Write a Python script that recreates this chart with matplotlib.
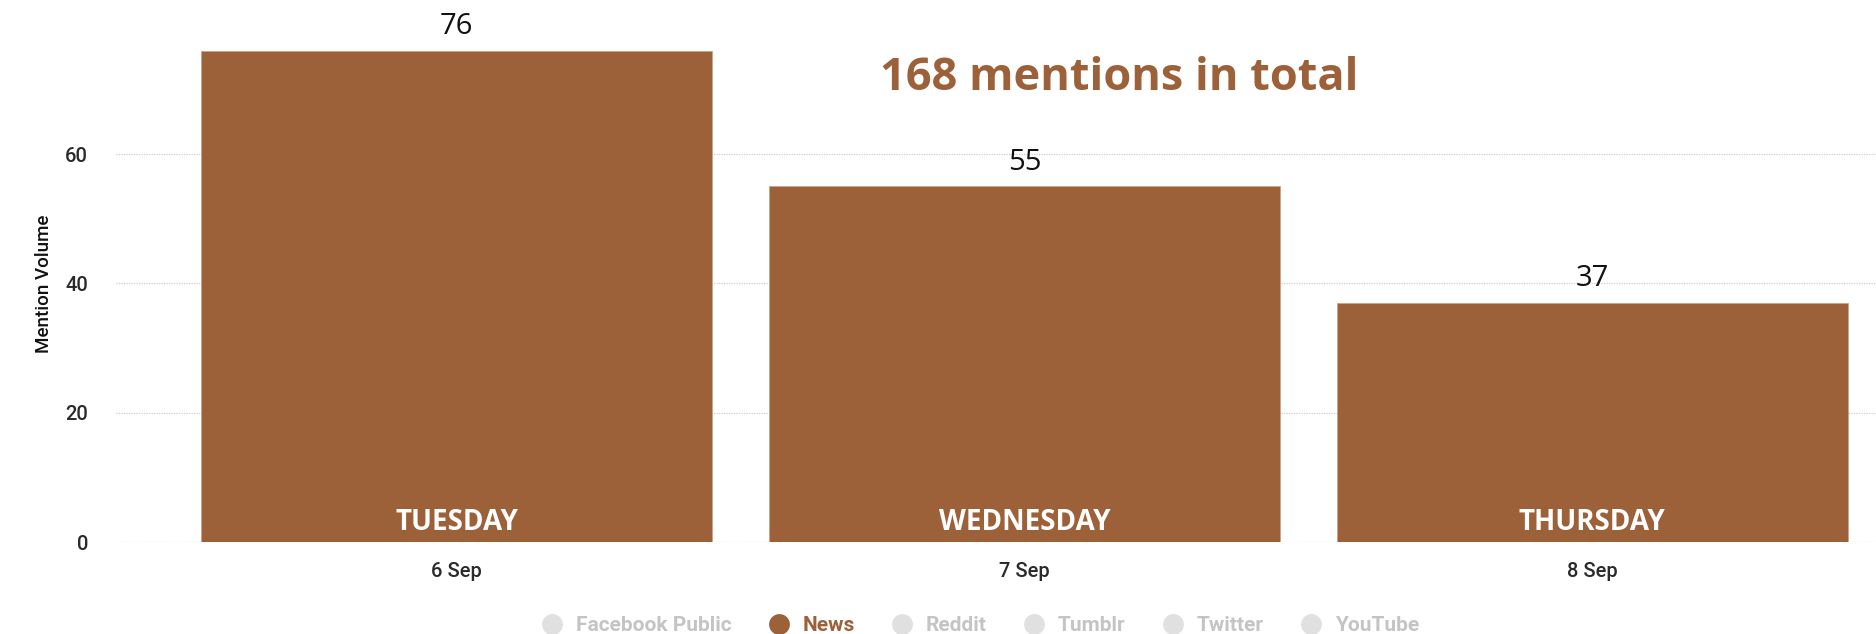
import numpy as np
import matplotlib.pyplot as plt
from matplotlib.lines import Line2D

dates = ["6 Sep", "7 Sep", "8 Sep"]
weekdays = ["TUESDAY", "WEDNESDAY", "THURSDAY"]
mentions = [76, 55, 37]
sources = ["Facebook Public", "News", "Reddit", "Tumblr", "Twitter", "YouTube"]
active_source = "News"

brown = "#9c6139"
muted = "#e0e0e0"
muted_text = "#c4c4c4"

fig = plt.figure(figsize=(18.76, 6.34), dpi=100)
ax = fig.add_axes([0.0618, 0.145, 0.9382, 0.816])

x = np.arange(len(mentions))
bars = ax.bar(x, mentions, width=0.9, color=brown, edgecolor="#c9a48c",
              linewidth=0.6, zorder=3)

ax.set_xlim(-0.6, 2.5)
ax.set_ylim(0, 80)
ax.set_yticks([0, 20, 40, 60])
ax.set_xticks(x)
ax.set_xticklabels(dates)
ax.grid(axis="y", linestyle=(0, (1, 1)), color="#cfcfcf", linewidth=0.9, zorder=0)
for s in ax.spines.values():
    s.set_visible(False)
ax.tick_params(axis="both", length=0, labelsize=14.5, labelcolor="#2a2a2a")
ax.tick_params(axis="y", pad=20)
ax.tick_params(axis="x", pad=14)
for lbl in ax.get_xticklabels() + ax.get_yticklabels():
    lbl.set_family("Roboto")
    lbl.set_fontweight("medium")
ax.set_ylabel("Mention Volume", fontsize=13.5, family="Roboto", color="#111111",
              fontweight="medium", labelpad=9)

# value above each bar, weekday inside at the base
for xi, v, day in zip(x, mentions, weekdays):
    ax.annotate(str(v), (xi, v), xytext=(0, 7), textcoords="offset points",
                ha="center", va="bottom", fontsize=21, family="Open Sans",
                color="#111111")
    ax.annotate(day, (xi, 0), xytext=(0, 4), textcoords="offset points",
                ha="center", va="bottom", fontsize=20, family="Open Sans",
                fontweight="bold", color="white", zorder=4)

ax.text(0.570, 0.897, f"{sum(mentions)} mentions in total", transform=ax.transAxes,
        ha="center", va="center", fontsize=32.5, family="Open Sans",
        fontweight="bold", color=brown)

handles = [Line2D([], [], marker="o", linestyle="", markersize=15,
                  markerfacecolor=brown if s == active_source else muted,
                  markeredgecolor="none") for s in sources]
leg = fig.legend(handles, sources, loc="center", bbox_to_anchor=(0.522, 0.013),
                 ncol=len(sources), frameon=False, handlelength=1.2,
                 handletextpad=0.55, columnspacing=1.66, borderpad=0,
                 prop={"family": "Roboto", "weight": "bold", "size": 15})
for t, s in zip(leg.get_texts(), sources):
    t.set_color(brown if s == active_source else muted_text)

fig.savefig("out.png", dpi=100)
